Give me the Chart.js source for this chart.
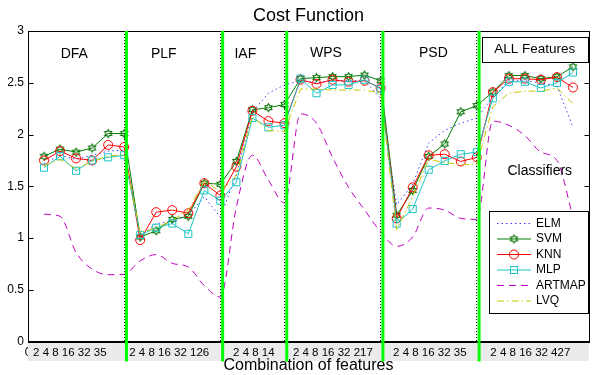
<!DOCTYPE html>
<html lang="en">
<head>
<meta charset="UTF-8">
<title>Cost Function</title>
<script src="https://cdn.jsdelivr.net/npm/chart.js@4.4.0/dist/chart.umd.min.js"></script>
<style>
  html, body { margin: 0; padding: 0; background: #fff; }
  #wrap { position: relative; width: 595px; height: 375px; }
</style>
</head>
<body>
<div id="wrap"><canvas id="costChart"></canvas></div>
<script>
// number of features in each combination, six feature groups one after the other
const combos = [2, 4, 8, 16, 32, 35,  2, 4, 8, 16, 32, 126,  2, 4, 8, 14,
                2, 4, 8, 16, 32, 217,  2, 4, 8, 16, 32, 35,  2, 4, 8, 16, 32, 427];
const groups = ['DFA', 'PLF', 'IAF', 'WPS', 'PSD', 'ALL Features'];
const groupTicks = ['2 4 8 16 32 35', '2 4 8 16 32 126', '2 4 8 14',
                    '2 4 8 16 32 217', '2 4 8 16 32 35', '2 4 8 16 32 427'];
const classifiers = ['ELM', 'SVM', 'KNN', 'MLP', 'ARTMAP', 'LVQ'];

// cost values
const elm    = [1.72, 1.80, 1.76, 1.80, 1.84, 1.85,  1.02, 1.14, 1.16, 1.22, 1.40, 1.20,  1.62, 2.22, 2.40, 2.48,
                2.52, 2.50, 2.52, 2.52, 2.52, 2.35,  1.32, 1.52, 1.92, 2.04, 2.11, 2.16,  2.36, 2.52, 2.52, 2.50, 2.47, 2.07];
const svm    = [1.79, 1.86, 1.83, 1.87, 2.01, 2.01,  1.01, 1.07, 1.18, 1.21, 1.53, 1.52,  1.74, 2.24, 2.26, 2.29,
                2.54, 2.55, 2.56, 2.56, 2.575, 2.52,  1.22, 1.46, 1.79, 1.91, 2.22, 2.28,  2.41, 2.57, 2.57, 2.54, 2.56, 2.655];
const knn    = [1.75, 1.84, 1.77, 1.75, 1.90, 1.88,  0.98, 1.25, 1.27, 1.24, 1.53, 1.41,  1.69, 2.23, 2.13, 2.11,
                2.53, 2.49, 2.53, 2.51, 2.52, 2.45,  1.19, 1.49, 1.80, 1.81, 1.74, 1.78,  2.41, 2.54, 2.54, 2.53, 2.555, 2.455];
const mlp    = [1.68, 1.79, 1.65, 1.75, 1.78, 1.80,  1.03, 1.10, 1.14, 1.04, 1.46, 1.36,  1.54, 2.16, 2.07, 2.09,
                2.54, 2.40, 2.48, 2.48, 2.53, 2.44,  1.14, 1.28, 1.66, 1.745, 1.81, 1.83,  2.35, 2.51, 2.51, 2.45, 2.50, 2.60];
const artmap = [1.23, 1.21, 0.86, 0.70, 0.645, 0.65,  0.78, 0.84, 0.755, 0.72, 0.54, 0.43,  1.30, 1.80, 1.56, 1.34,
                2.20, 2.11, 1.78, 1.49, 1.27, 1.06,  0.92, 1.01, 1.29, 1.27, 1.19, 1.18,  2.13, 2.09, 1.99, 1.83, 1.75, 1.20];
const lvq    = [1.70, 1.76, 1.67, 1.74, 1.79, 1.81,  1.05, 1.10, 1.17, 1.27, 1.55, 1.45,  1.60, 2.18, 2.04, 2.03,
                2.44, 2.44, 2.43, 2.43, 2.43, 2.40,  1.08, 1.40, 1.76, 1.73, 1.71, 1.71,  2.27, 2.40, 2.42, 2.42, 2.45, 2.30];

const series = [elm, svm, knn, mlp, artmap, lvq];

// last combination index of each group (separator positions)
const bounds = [];
let run = 0;
groupTicks.slice(0, -1).forEach(t => { run += t.split(' ').length; bounds.push(run); });

Chart.defaults.font.family = "Arial, 'Liberation Sans', sans-serif";
Chart.defaults.color = '#000';

// six pointed star marker like matlab 'h'
function hexagram(color) {
    const c = document.createElement('canvas');
    c.width = 11; c.height = 11;
    const g = c.getContext('2d');
    const R = 4, r = R / Math.sqrt(3);
    g.beginPath();
    for (let k = 0; k < 12; k++) {
        const rad = k % 2 ? r : R;
        const ang = -Math.PI / 2 + k * Math.PI / 6;
        const px = 5.5 + rad * Math.cos(ang), py = 5.5 + rad * Math.sin(ang);
        if (k) g.lineTo(px, py); else g.moveTo(px, py);
    }
    g.closePath();
    g.strokeStyle = color;
    g.lineWidth = 1.1;
    g.stroke();
    return c;
}

const looks = [
    { borderColor: '#3c3cff', borderDash: [1.5, 3], pointRadius: 0 },
    { borderColor: '#008000', pointStyle: hexagram('#007000'), pointRadius: 4 },
    { borderColor: '#ff0000', pointStyle: 'circle', pointRadius: 4.5 },
    { borderColor: '#1cc4c4', pointStyle: 'rect', pointRadius: 5 },
    { borderColor: '#c000c0', borderDash: [7, 5], pointRadius: 0, cubicInterpolationMode: 'monotone' },
    { borderColor: '#c8c800', borderDash: [7, 3, 1.5, 3], pointRadius: 0 }
];

const datasets = classifiers.map((name, i) => Object.assign({
    label: name,
    data: series[i].map((v, k) => ({ x: k + 1, y: v })),
    borderWidth: 1,
    pointBorderWidth: 1,
    pointBackgroundColor: 'rgba(0,0,0,0)',
    pointBorderColor: looks[i].borderColor,
    fill: false,
    tension: 0,
    order: classifiers.length - i
}, looks[i]));

// where the group labels sit, in axis units
const groupTickPos = [2.61, 8.81, 14.09, 19.02, 25.07, 31.34];
const groupNamePos = [[2.89, 2.78], [8.47, 2.78], [13.56, 2.78], [18.59, 2.79], [25.29, 2.79]];

const decor = {
    id: 'decor',
    afterLayout(chart) {
        // give the bottom axis room so its "0" is not clipped away
        const s = chart.scales.x;
        s.top = chart.chartArea.bottom;
        s.bottom = s.top + 30;
    },
    beforeDatasetsDraw(chart) {
        const { ctx, chartArea: a } = chart;
        ctx.save();
        ctx.fillStyle = '#ebebeb';
        ctx.fillRect(a.left, a.bottom + 1.5, a.right - a.left, 18);
        ctx.restore();
    },
    afterDraw(chart) {
        const { ctx, chartArea: a, scales: { x, y } } = chart;
        const L = Math.round(a.left) + 0.5, R = Math.round(a.right) + 0.5;
        const T = Math.round(a.top) + 0.5, B = Math.round(a.bottom) + 0.5;
        ctx.save();
        ctx.strokeStyle = '#000';
        ctx.lineWidth = 1;
        ctx.strokeRect(L, T, R - L, B - T);
        ctx.beginPath();
        y.ticks.forEach(t => {
            const py = Math.round(y.getPixelForValue(t.value)) + 0.5;
            ctx.moveTo(L, py); ctx.lineTo(L + 5, py);
            ctx.moveTo(R, py); ctx.lineTo(R - 5, py);
        });
        ctx.stroke();

        // green separators between feature groups
        ctx.strokeStyle = '#00ff00';
        ctx.lineWidth = 3;
        bounds.forEach(b => {
            const px = x.getPixelForValue(b) + 2.3;
            ctx.beginPath();
            ctx.moveTo(px, a.top);
            ctx.lineTo(px, a.bottom + 20);
            ctx.stroke();
        });

        ctx.fillStyle = '#000';
        ctx.textAlign = 'center';
        ctx.textBaseline = 'middle';
        ctx.font = "14px Arial, 'Liberation Sans', sans-serif";
        groupNamePos.forEach((p, i) => {
            ctx.fillText(groups[i], x.getPixelForValue(p[0]), y.getPixelForValue(p[1]));
        });

        // boxed label for the last group
        const bx1 = x.getPixelForValue(28.3), bx2 = x.getPixelForValue(34.94);
        const by1 = y.getPixelForValue(2.94), by2 = y.getPixelForValue(2.70);
        ctx.fillStyle = '#fff';
        ctx.fillRect(bx1, by1, bx2 - bx1, by2 - by1);
        ctx.strokeStyle = '#000';
        ctx.lineWidth = 1;
        ctx.strokeRect(Math.round(bx1) + 0.5, Math.round(by1) + 0.5, Math.round(bx2 - bx1), Math.round(by2 - by1));
        ctx.fillStyle = '#000';
        ctx.font = "13.5px Arial, 'Liberation Sans', sans-serif";
        ctx.fillText(groups[5], (bx1 + bx2) / 2, (by1 + by2) / 2);
        ctx.font = "14px Arial, 'Liberation Sans', sans-serif";
        ctx.fillText('Classifiers', x.getPixelForValue(31.93), y.getPixelForValue(1.645));

        // legend box
        const lx = 489.5, ly = 211.5, lw = 99, lh = 102;
        ctx.fillStyle = '#fff';
        ctx.fillRect(lx, ly, lw, lh);
        ctx.strokeStyle = '#000';
        ctx.strokeRect(lx, ly, lw, lh);
        ctx.textAlign = 'left';
        ctx.font = "12px Arial, 'Liberation Sans', sans-serif";
        chart.data.datasets.forEach((ds, i) => {
            const ry = 223.5 + i * 15.5;
            ctx.strokeStyle = ds.borderColor;
            ctx.lineWidth = 1;
            ctx.setLineDash(ds.borderDash || []);
            ctx.beginPath();
            ctx.moveTo(497, ry); ctx.lineTo(531, ry);
            ctx.stroke();
            ctx.setLineDash([]);
            if (ds.pointStyle && typeof ds.pointStyle === 'object') {
                ctx.drawImage(ds.pointStyle, 514 - 5.5, ry - 5.5);
            } else if (ds.pointStyle === 'circle') {
                ctx.beginPath(); ctx.arc(514, ry, 4.5, 0, Math.PI * 2); ctx.stroke();
            } else if (ds.pointStyle === 'rect') {
                ctx.strokeRect(514 - 3.5, ry - 3.5, 7, 7);
            }
            ctx.fillStyle = '#000';
            ctx.fillText(ds.label, 536, ry);
        });
        ctx.restore();
    }
};

new Chart(document.getElementById('costChart'), {
    type: 'line',
    data: { datasets: datasets },
    options: {
        responsive: true,
        maintainAspectRatio: false,
        animation: false,
        layout: { padding: { left: 0, right: 3, top: 0, bottom: 0 } },
        plugins: {
            legend: { display: false },
            tooltip: { enabled: false },
            title: {
                display: true,
                fullSize: false,
                text: 'Cost Function',
                color: '#000',
                font: { size: 18, weight: 'normal' },
                padding: { top: 5, bottom: 4.5 }
            }
        },
        scales: {
            x: {
                type: 'linear',
                min: 0,
                max: 35,
                position: 'bottom',
                afterFit: s => { s.height = 0; },
                afterBuildTicks: s => { s.ticks = [0].concat(bounds).map(v => ({ value: v })); },
                ticks: {
                    autoSkip: false,
                    maxRotation: 0,
                    padding: 4,
                    font: { size: 12 },
                    callback: v => v === 0 ? '0' : ''
                },
                grid: {
                    drawTicks: false,
                    lineWidth: 1,
                    color: c => (c.tick && c.tick.value === 0) ? 'rgba(0,0,0,0)' : '#000'
                },
                border: { display: true, color: '#000', dash: [1, 2] }
            },
            x2: {
                type: 'linear',
                min: 0,
                max: 35,
                position: 'bottom',
                afterFit: s => { s.height = 33.5; },
                afterBuildTicks: s => { s.ticks = groupTickPos.map(v => ({ value: v })); },
                ticks: {
                    z: 1,
                    autoSkip: false,
                    maxRotation: 0,
                    padding: 4,
                    font: { size: 11.5 },
                    color: '#000',
                    callback: (v, i) => groupTicks[i]
                },
                grid: { display: false, drawTicks: false, z: 1 },
                border: { display: false },
                title: {
                    display: true,
                    text: 'Combination of features',
                    color: '#000',
                    font: { size: 16 },
                    padding: 0
                }
            },
            y: {
                min: 0,
                max: 3,
                afterFit: s => { s.width = 28; },
                ticks: { stepSize: 0.5, padding: 4, font: { size: 12 }, callback: v => String(v) },
                grid: { display: false, drawTicks: false },
                border: { display: true, color: '#000' }
            }
        }
    },
    plugins: [decor]
});
</script>
</body>
</html>
